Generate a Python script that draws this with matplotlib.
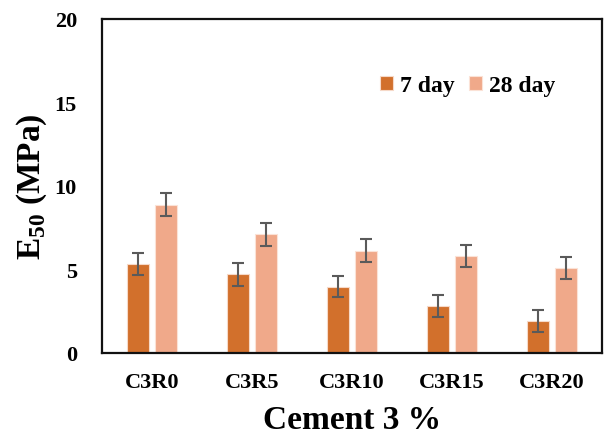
import matplotlib.pyplot as plt
import numpy as np

plt.rcParams['font.family'] = ['Liberation Serif', 'DejaVu Serif']
plt.rcParams['font.weight'] = 'bold'
plt.rcParams['mathtext.fontset'] = 'custom'
plt.rcParams['mathtext.rm'] = 'Liberation Serif:bold'
plt.rcParams['mathtext.bf'] = 'Liberation Serif:bold'

categories = ['C3R0', 'C3R5', 'C3R10', 'C3R15', 'C3R20']
e50_7day = [5.31, 4.71, 3.97, 2.79, 1.92]
e50_28day = [8.88, 7.10, 6.13, 5.81, 5.11]
err_7day = [0.66, 0.68, 0.63, 0.66, 0.66]
err_28day = [0.70, 0.70, 0.68, 0.66, 0.66]

fig = plt.figure(figsize=(6.04, 4.39), dpi=100)
ax = fig.add_axes([102 / 604, 1 - 354 / 439, 500 / 604, 334 / 439])

x = np.arange(len(categories))
w = 0.22
err_kw = dict(ecolor='#5a5a5a', elinewidth=1.5, capsize=4, capthick=1.5)
ax.bar(x - 0.143, e50_7day, w, yerr=err_7day, color='#d2702c',
       edgecolor='#f6d9c8', linewidth=0.8, error_kw=err_kw, label='7 day')
ax.bar(x + 0.143, e50_28day, w, yerr=err_28day, color='#f0a98a',
       edgecolor='#fbe2d6', linewidth=0.8, error_kw=err_kw, label='28 day')

ax.set_xlim(-0.5, 4.5)
ax.set_ylim(0, 20)
ax.set_yticks([0, 5, 10, 15, 20])
ax.set_xticks(x)
ax.set_xticklabels(categories)
ax.tick_params(length=0, labelsize=16)
ax.tick_params(axis='x', pad=14)
ax.tick_params(axis='y', pad=18)
for s in ax.spines.values():
    s.set_linewidth(1.6)
    s.set_color('#111111')

ax.set_xlabel('Cement 3 %', fontsize=24, fontweight='bold', labelpad=8)
ax.set_ylabel('E$_{50}$ (MPa)', fontsize=24, fontweight='bold', labelpad=4)

ax.legend(loc='center right', bbox_to_anchor=(0.93, 0.80), ncol=2, frameon=False,
          handlelength=0.55, handleheight=0.55, handletextpad=0.3,
          columnspacing=0.6, borderpad=0, prop={'weight': 'bold', 'size': 17})

fig.savefig('out.png', dpi=100)
